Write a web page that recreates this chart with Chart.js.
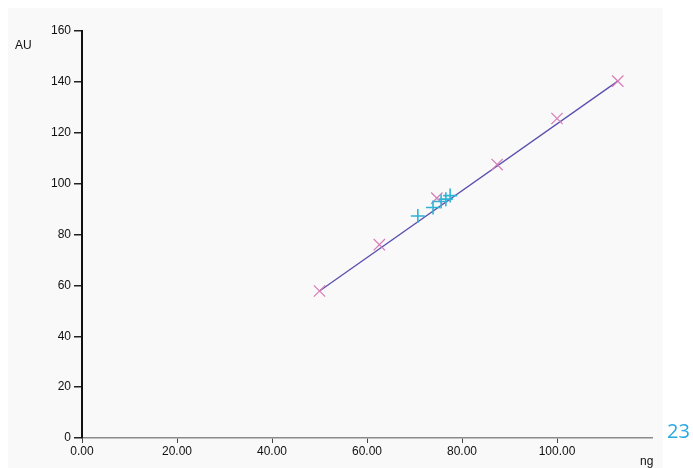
<!DOCTYPE html>
<html>
<head>
<meta charset="utf-8">
<script src="https://cdn.jsdelivr.net/npm/chart.js@4/dist/chart.umd.min.js"></script>
<style>
  html, body { margin: 0; padding: 0; background: #ffffff; }
  #wrap { position: relative; width: 693px; height: 468px; overflow: hidden; }
  #bg { position: absolute; left: 8px; top: 8px; width: 655px; height: 460px; background: #f9f9f9; }
  canvas { position: absolute; left: 0; top: 0; }
  .lbl { position: absolute; font-family: "Liberation Sans", Arial, sans-serif; color: #111; }
  #au { left: 15px; top: 38px; font-size: 12px; }
  #ng { left: 640px; top: 454px; font-size: 12px; }
  #pg { left: 667px; top: 417px; font-size: 20px; color: #29a9e0; font-family: "Open Sans", "Liberation Sans", sans-serif; }
</style>
</head>
<body>
<div id="wrap">
  <div id="bg"></div>
  <canvas id="c" width="693" height="468"></canvas>
  <div class="lbl" id="au">AU</div>
  <div class="lbl" id="ng">ng</div>
  <div class="lbl" id="pg">23</div>
</div>
<script>
// Standards (pink X markers)
const standardX = [50.0, 62.6, 74.7, 87.4, 100.0, 112.8];
const standardY = [57.8, 76.0, 94.3, 107.5, 125.6, 140.3];
// Samples (cyan + markers)
const sampleX = [70.7, 73.9, 75.6, 76.6, 77.5];
const sampleY = [87.3, 90.6, 93.0, 93.9, 95.3];
// Calibration line end points
const lineX = [50.0, 112.8];
const lineY = [57.8, 140.3];
// Axis ticks
const xTicks = [0, 20, 40, 60, 80, 100];
const yTicks = [0, 20, 40, 60, 80, 100, 120, 140, 160];

const toPts = (xs, ys) => xs.map((x, i) => ({ x: x, y: ys[i] }));

new Chart(document.getElementById('c'), {
  type: 'scatter',
  data: {
    datasets: [
      {
        label: 'fit',
        type: 'line',
        data: toPts(lineX, lineY),
        borderColor: '#5a4fae',
        borderWidth: 1.3,
        pointRadius: 0,
        fill: false,
        order: 3
      },
      {
        label: 'standards',
        data: toPts(standardX, standardY),
        pointStyle: 'crossRot',
        pointRadius: 8,
        borderColor: '#d77bb8',
        backgroundColor: '#d77bb8',
        pointBorderWidth: 1.2,
        order: 2
      },
      {
        label: 'samples',
        data: toPts(sampleX, sampleY),
        pointStyle: 'cross',
        pointRadius: 7,
        borderColor: '#2fb3d6',
        backgroundColor: '#2fb3d6',
        pointBorderWidth: 1.6,
        order: 1
      }
    ]
  },
  options: {
    responsive: false,
    animation: false,
    events: [],
    layout: { padding: { left: 0, top: 31, right: 41, bottom: 0 } },
    plugins: { legend: { display: false }, tooltip: { enabled: false } },
    scales: {
      x: {
        type: 'linear',
        min: 0,
        max: 120,
        afterBuildTicks: (s) => { s.ticks = xTicks.map(v => ({ value: v })); },
        afterFit: (s) => { s.height = 30; },
        ticks: {
          callback: (v) => Number(v).toFixed(2),
          color: '#111',
          font: { family: 'Liberation Sans', size: 12 },
          padding: 1,
          maxRotation: 0
        },
        grid: { drawOnChartArea: false, drawTicks: true, tickLength: 5, color: '#444', lineWidth: 1 },
        border: { display: true, color: '#8a8a8a', width: 1.5 }
      },
      y: {
        type: 'linear',
        min: 0,
        max: 160,
        afterBuildTicks: (s) => { s.ticks = yTicks.map(v => ({ value: v })); },
        afterFit: (s) => { s.width = 82; },
        ticks: {
          color: '#111',
          font: { family: 'Liberation Sans', size: 12 },
          padding: 3
        },
        grid: { drawOnChartArea: false, drawTicks: true, tickLength: 8, color: '#222', lineWidth: 1.5 },
        border: { display: true, color: '#111', width: 2 }
      }
    }
  }
});
</script>
</body>
</html>
